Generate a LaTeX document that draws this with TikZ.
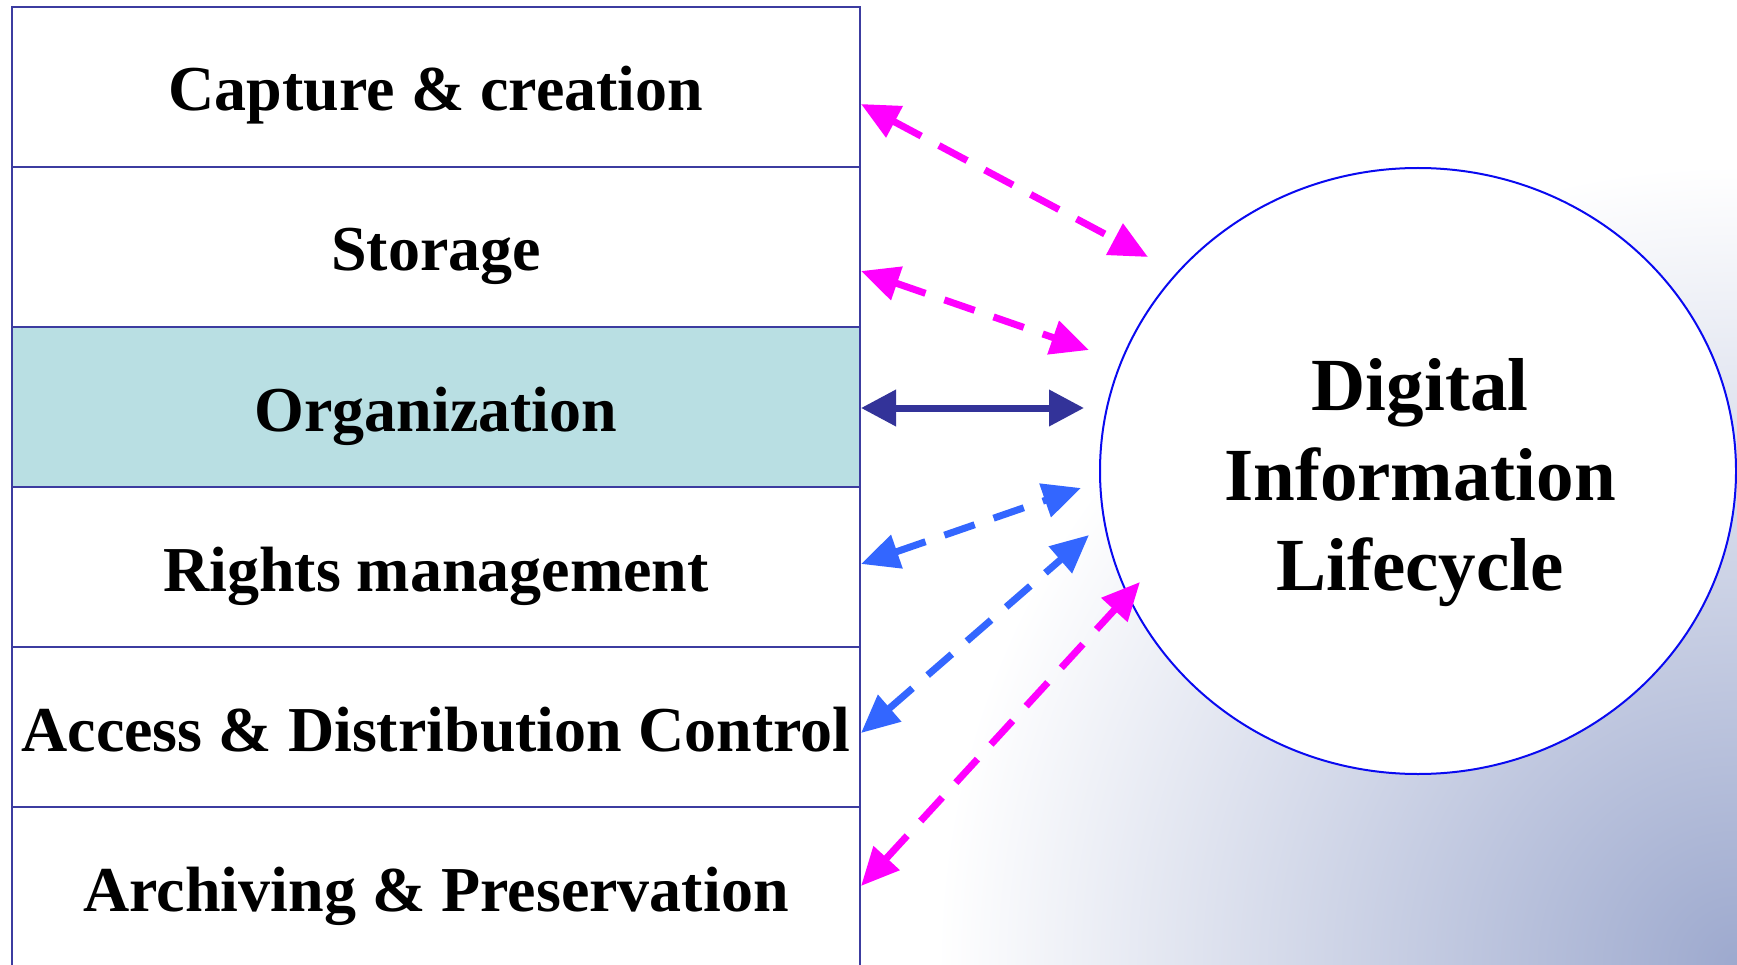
\documentclass[tikz,border=0pt]{standalone}
\usepackage{fontspec}
\setmainfont{Liberation Serif}
\usetikzlibrary{arrows.meta,shapes.geometric}
\definecolor{boxblue}{HTML}{3C3CA0}
\definecolor{orgfill}{HTML}{B9DFE3}
\definecolor{circblue}{HTML}{0A0AF0}
\definecolor{magarr}{HTML}{FF00FF}
\definecolor{darkarr}{HTML}{333399}
\definecolor{bluearr}{HTML}{3366FF}
\definecolor{bgblue}{HTML}{9DA9CE}
\begin{document}
\begin{tikzpicture}[x=1pt,y=-1pt,
  rowbox/.style={draw=boxblue, fill=white, line width=2pt, minimum width=848.5pt, minimum height=160pt,
    inner sep=0pt, text height=64pt, text depth=16pt,
    font=\fontsize{64}{64}\bfseries\selectfont},
  dashedarrow/.style={line width=7pt, dash pattern=on 32pt off 20pt,
    arrows={Triangle[length=38pt,width=34pt]-Triangle[length=38pt,width=34pt]}},
  solidarrow/.style={line width=7pt, draw=darkarr,
    arrows={Triangle[length=35pt,width=35pt]-Triangle[length=35pt,width=35pt]}}
]
\useasboundingbox (0,0) rectangle (1737,965);
\fill[white] (0,0) rectangle (1737,965);
\begin{scope}
  \clip (0,0) rectangle (1737,965);
  \shade[inner color=bgblue, outer color=white] (1737,965) circle (800);
\end{scope}

\node[rowbox] (cap) at (436,87) {Capture \& creation};
\node[rowbox] (sto) at (436,247) {Storage};
\node[rowbox, fill=orgfill] (org) at (436,407) {Organization};
\node[rowbox] (rig) at (436,567) {Rights management};
\node[rowbox] (acc) at (436,727) {Access \& Distribution Control};
\node[rowbox] (arc) at (436,887) {Archiving \& Preservation};

\node[ellipse, draw=circblue, line width=2pt, fill=white, minimum width=636pt,
  minimum height=606pt, inner sep=0pt] (dil) at (1418,471) {};
\node[align=center, anchor=north, inner sep=0pt,
  font=\fontsize{75}{90}\bfseries\selectfont] (dilt) at (1420,358)
  {Digital\\Information\\Lifecycle};

\coordinate (a1) at (861,104);  \coordinate (b1) at (1148,257);
\coordinate (a2) at (861,271);  \coordinate (b2) at (1089,350);
\coordinate (a3) at (861,408);  \coordinate (b3) at (1084,408);
\coordinate (a4) at (861,564);  \coordinate (b4) at (1081,488);
\coordinate (a5) at (861,733);  \coordinate (b5) at (1089,535);
\coordinate (a6) at (861,886);  \coordinate (b6) at (1140,582);

\draw[dashedarrow, draw=magarr] (a1) -- (b1);
\draw[dashedarrow, draw=magarr] (a2) -- (b2);
\draw[solidarrow] (a3) -- (b3);
\draw[dashedarrow, draw=bluearr] (a4) -- (b4);
\draw[dashedarrow, draw=bluearr] (a5) -- (b5);
\draw[dashedarrow, draw=magarr] (a6) -- (b6);
\end{tikzpicture}
\end{document}
